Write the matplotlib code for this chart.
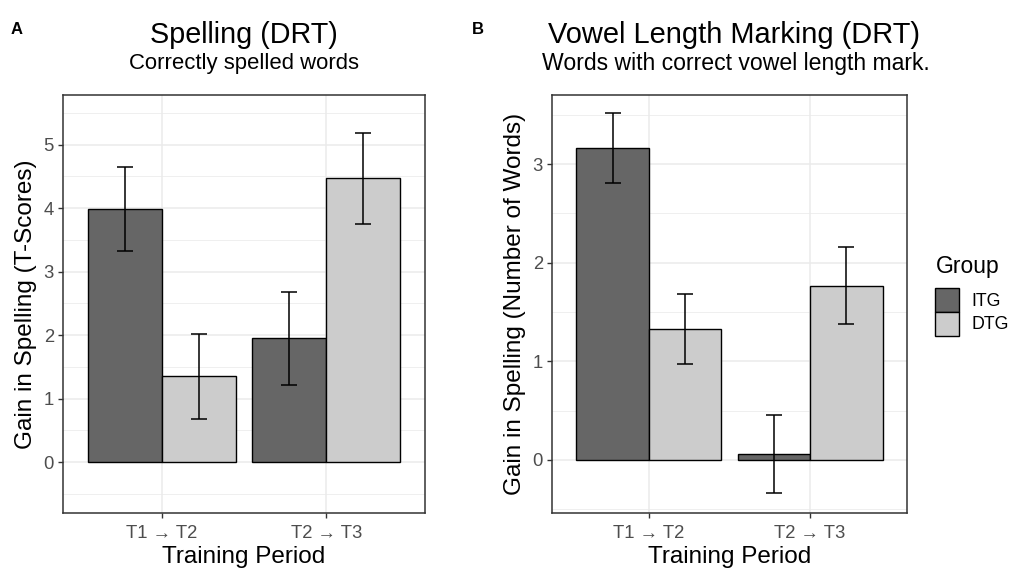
import numpy as np
import matplotlib
matplotlib.use("Agg")
import matplotlib.pyplot as plt
from matplotlib.patches import Patch

plt.rcParams['font.family'] = ['Liberation Sans', 'DejaVu Sans']

periods = ["T1 \u2192 T2", "T2 \u2192 T3"]
groups = ["ITG", "DTG"]
group_colors = ["#666666", "#cccccc"]

# panel A: T-scores
spell_itg = [3.99, 1.95]
spell_dtg = [1.35, 4.47]
spell_itg_err = [0.66, 0.735]
spell_dtg_err = [0.675, 0.715]

# panel B: number of words
vowel_itg = [3.16, 0.056]
vowel_dtg = [1.326, 1.765]
vowel_itg_err = [0.357, 0.396]
vowel_dtg_err = [0.355, 0.39]

GRID = "#ebebeb"
DARK = "#333333"


def draw_panel(ax, itg, dtg, itg_err, dtg_err, ylim, yticks, ylabel):
    x = np.arange(1, len(periods) + 1)
    w = 0.45
    for vals, errs, off, col in [(itg, itg_err, -w / 2, group_colors[0]),
                                 (dtg, dtg_err, w / 2, group_colors[1])]:
        ax.bar(x + off, vals, width=w, color=col, edgecolor="black",
               linewidth=1.0, zorder=3)
        ax.errorbar(x + off, vals, yerr=errs, fmt="none", ecolor="black",
                    elinewidth=1.1, capsize=5.8, capthick=1.1, zorder=4)
    ax.set_xlim(0.4, 2.6)
    ax.set_ylim(*ylim)
    ax.set_xticks(x)
    ax.set_xticklabels(periods)
    ax.set_yticks(yticks)
    minor = np.arange(yticks[0] - 0.5, yticks[-1] + 1.0, 1.0)
    ax.set_yticks(minor, minor=True)
    ax.tick_params(axis="y", which="minor", length=0)
    ax.grid(True, which="major", color=GRID, linewidth=1.1, zorder=0)
    ax.grid(True, which="minor", axis="y", color=GRID, linewidth=0.55, zorder=0)
    ax.set_axisbelow(True)
    for s in ax.spines.values():
        s.set_color(DARK)
        s.set_linewidth(1.1)
    ax.tick_params(axis="both", which="major", colors=DARK, length=3.5,
                   width=1.0, labelsize=13.3, labelcolor="#4d4d4d", pad=3)
    ax.tick_params(axis="x", pad=5)
    ax.set_xlabel("Training Period", fontsize=17.5, labelpad=3)
    ax.set_ylabel(ylabel, fontsize=17.5, labelpad=5)


fig = plt.figure(figsize=(10.13, 5.72), dpi=100)
ax1 = fig.add_axes([63 / 1013, 1 - 513 / 572, 362 / 1013, 418 / 572])
ax2 = fig.add_axes([552 / 1013, 1 - 513 / 572, 355 / 1013, 418 / 572])

draw_panel(ax1, spell_itg, spell_dtg, spell_itg_err, spell_dtg_err,
           (-0.8, 5.78), [0, 1, 2, 3, 4, 5], "Gain in Spelling (T-Scores)")
draw_panel(ax2, vowel_itg, vowel_dtg, vowel_itg_err, vowel_dtg_err,
           (-0.538, 3.70), [0, 1, 2, 3], "Gain in Spelling (Number of Words)")

fig.text(244 / 1013, 1 - 35 / 572, "Spelling (DRT)", ha="center", va="center", fontsize=20.7)
fig.text(244 / 1013, 1 - 63.5 / 572, "Correctly spelled words", ha="center", va="center", fontsize=15.9)
fig.text(734 / 1013, 1 - 35 / 572, "Vowel Length Marking (DRT)", ha="center", va="center", fontsize=20.9)
fig.text(736 / 1013, 1 - 63.5 / 572, "Words with correct vowel length mark.", ha="center", va="center", fontsize=16.6)
fig.text(17 / 1013, 1 - 30 / 572, "A", ha="center", va="center", fontsize=12, fontweight="bold")
fig.text(478 / 1013, 1 - 30 / 572, "B", ha="center", va="center", fontsize=12, fontweight="bold")

# legend title drawn on its own so the keys can sit flush under each other
fig.text(936 / 1013, 1 - 266 / 572, "Group", ha="left", va="center", fontsize=16.5)
handles = [Patch(facecolor=c, edgecolor="black", linewidth=1.0) for c in group_colors]
fig.legend(handles, groups, loc="upper left",
           bbox_to_anchor=(935 / 1013, 1 - 288 / 572), frameon=False,
           fontsize=12.8, handlelength=1.35, handleheight=1.68,
           handletextpad=0.7, labelspacing=0.0, borderaxespad=0,
           borderpad=0)

fig.savefig("out.png", dpi=100)
